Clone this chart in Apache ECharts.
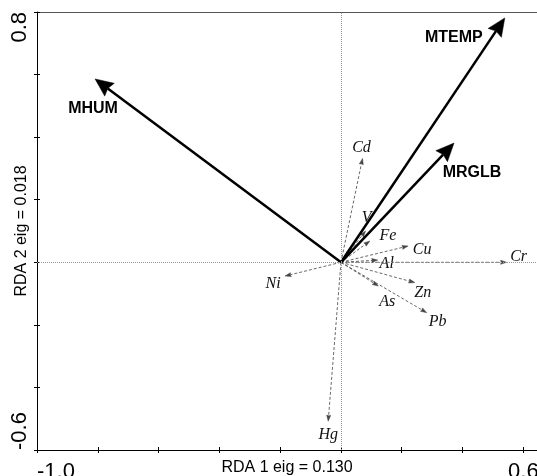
<!DOCTYPE html>
<html>
<head>
<meta charset="utf-8">
<script src="https://cdn.jsdelivr.net/npm/echarts@6/dist/echarts.min.js"></script>
<style>html,body{margin:0;padding:0;background:#fff;}#c{width:537px;height:476px;}</style>
</head>
<body>
<div id="c"></div>
<script>
// Environmental variables (bold arrows)
const envNames = ['MHUM', 'MTEMP', 'MRGLB'];
const envX = [-0.809, 0.539, 0.372];
const envY = [0.586, 0.781, 0.381];
// Species / elements (dashed arrows)
const spNames = ['Cd', 'V', 'Fe', 'Cu', 'Al', 'Cr', 'Ni', 'Zn', 'As', 'Pb', 'Hg'];
const spX = [0.071, 0.081, 0.095, 0.221, 0.121, 0.545, -0.184, 0.243, 0.123, 0.282, -0.042];
const spY = [0.332, 0.100, 0.068, 0.052, 0.007, 0.000, -0.044, -0.065, -0.076, -0.161, -0.508];
// Tick labels shown
const xTickValues = [-1.0, 0.6];
const xTickLabels = ['-1.0', '0.6'];
const yTickValues = [-0.6, 0.8];
const yTickLabels = ['-0.6', '0.8'];
const xTitle = 'RDA 1 eig = 0.130';
const yTitle = 'RDA 2 eig = 0.018';

// label offsets (pixels, relative to arrow tip) - layout only
const labelOffset = {
  MHUM: [-2, 30], MTEMP: [-51, 20], MRGLB: [18, 30],
  Cd: [-1, -11], V: [1, -13], Fe: [18, -5], Cu: [14, 4], Al: [9, 4], Cr: [12, -5],
  Ni: [-12, 8], Zn: [8, 10], As: [9, 16], Pb: [11, 9], Hg: [0, 14]
};

function tickFmt(values, labels) {
  return function (v) {
    for (let i = 0; i < values.length; i++) {
      if (Math.abs(v - values[i]) < 1e-6) return labels[i];
    }
    return '';
  };
}

function makeRender(names, opts) {
  return function (params, api) {
    const x = api.value(0), y = api.value(1);
    const name = names[params.dataIndex];
    const p0 = api.coord([0, 0]);
    const p1 = api.coord([x, y]);
    const dx = p1[0] - p0[0], dy = p1[1] - p0[1];
    const len = Math.hypot(dx, dy) || 1;
    const ux = dx / len, uy = dy / len;
    const nx = -uy, ny = ux;
    const L = opts.headLen, W = opts.headWidth / 2;
    const bx = p1[0] - ux * L, by = p1[1] - uy * L;
    const nt = L * opts.notch;
    const off = labelOffset[name] || [0, 0];
    return {
      type: 'group',
      children: [
        {
          type: 'line',
          shape: { x1: p0[0], y1: p0[1], x2: bx + ux * nt, y2: by + uy * nt },
          style: { stroke: opts.color, lineWidth: opts.lineWidth, lineDash: opts.dash }
        },
        {
          type: 'polygon',
          shape: { points: [[p1[0], p1[1]], [bx + nx * W, by + ny * W], [bx + ux * nt, by + uy * nt], [bx - nx * W, by - ny * W]] },
          style: { fill: opts.color, stroke: opts.color, lineWidth: 0.5 }
        },
        {
          type: 'text',
          style: {
            text: name, x: p1[0] + off[0], y: p1[1] + off[1],
            align: 'center', verticalAlign: 'middle',
            fontSize: opts.fontSize, fontFamily: opts.fontFamily,
            fontStyle: opts.fontStyle, fontWeight: opts.fontWeight, fill: opts.textColor
          }
        }
      ]
    };
  };
}

const chart = echarts.init(document.getElementById('c'), null, { renderer: 'canvas' });
const axisFont = 'Liberation Sans';
const X_MIN = -1.0, X_MAX = 0.645, Y_MIN = -0.6, Y_MAX = 0.8, STEP = 0.2;
chart.setOption({
  animation: false,
  backgroundColor: '#fff',
  grid: { left: 37, right: 0, top: 12, bottom: 26, containLabel: false, outerBoundsMode: 'none' },
  xAxis: [{
    type: 'value', min: X_MIN, max: X_MAX, interval: STEP, position: 'bottom',
    splitLine: { show: false },
    axisLine: { show: true, onZero: false, lineStyle: { color: '#000', width: 1 } },
    axisTick: { show: true, length: 3, lineStyle: { color: '#000' } },
    axisLabel: { formatter: tickFmt(xTickValues, xTickLabels), fontSize: 22, fontFamily: axisFont, color: '#000', margin: 11, alignMinLabel: 'left', showMaxLabel: false },
    name: xTitle, nameLocation: 'middle', nameGap: 10, nameMoveOverlap: false,
    nameTextStyle: { fontSize: 16, fontFamily: axisFont, color: '#000', verticalAlign: 'top' }
  }, {
    type: 'value', min: X_MIN, max: X_MAX, interval: STEP, position: 'top',
    splitLine: { show: false },
    axisLine: { show: true, onZero: false, lineStyle: { color: '#555', width: 1 } },
    axisTick: { show: false }, axisLabel: { show: false }
  }, {
    type: 'value', min: X_MIN, max: X_MAX, interval: STEP, position: 'bottom',
    splitLine: { show: false }, axisLine: { show: false, onZero: false },
    axisTick: { show: true, inside: true, length: 3, lineStyle: { color: '#000' } },
    axisLabel: { show: false }
  }],
  yAxis: [{
    type: 'value', min: Y_MIN, max: Y_MAX, interval: STEP, position: 'left',
    splitLine: { show: false },
    axisLine: { show: true, onZero: false, lineStyle: { color: '#000', width: 1 } },
    axisTick: { show: true, length: 3, lineStyle: { color: '#000' } },
    axisLabel: { formatter: tickFmt(yTickValues, yTickLabels), rotate: 90, fontSize: 22, fontFamily: axisFont, color: '#000', margin: 6, alignMinLabel: 'left', alignMaxLabel: 'right' },
    name: yTitle, nameLocation: 'middle', nameGap: 7, nameMoveOverlap: false,
    nameTextStyle: { fontSize: 16, fontFamily: axisFont, color: '#000' }
  }, {
    type: 'value', min: Y_MIN, max: Y_MAX, interval: STEP, position: 'left',
    splitLine: { show: false }, axisLine: { show: false, onZero: false },
    axisTick: { show: true, inside: true, length: 3, lineStyle: { color: '#000' } },
    axisLabel: { show: false }
  }],
  series: [
    {
      type: 'custom', name: 'species', coordinateSystem: 'cartesian2d', xAxisIndex: 0, yAxisIndex: 0,
      data: spX.map((v, i) => [v, spY[i]]),
      renderItem: makeRender(spNames, { color: '#444', lineWidth: 0.8, dash: [3, 2], headLen: 6, headWidth: 4, notch: 0.1, fontSize: 16, fontFamily: 'Liberation Serif', fontStyle: 'italic', fontWeight: 'normal', textColor: '#111' }),
      markLine: {
        silent: true, symbol: 'none', label: { show: false },
        lineStyle: { type: 'dotted', color: '#999', width: 1 },
        data: [{ xAxis: 0 }, { yAxis: 0 }]
      },
      z: 2
    },
    {
      type: 'custom', name: 'env', coordinateSystem: 'cartesian2d', xAxisIndex: 0, yAxisIndex: 0,
      data: envX.map((v, i) => [v, envY[i]]),
      renderItem: makeRender(envNames, { color: '#000', lineWidth: 2.5, dash: null, headLen: 18, headWidth: 16, notch: 0.12, fontSize: 16, fontFamily: axisFont, fontStyle: 'normal', fontWeight: 'bold', textColor: '#000' }),
      z: 3
    }
  ]
});
</script>
</body>
</html>
